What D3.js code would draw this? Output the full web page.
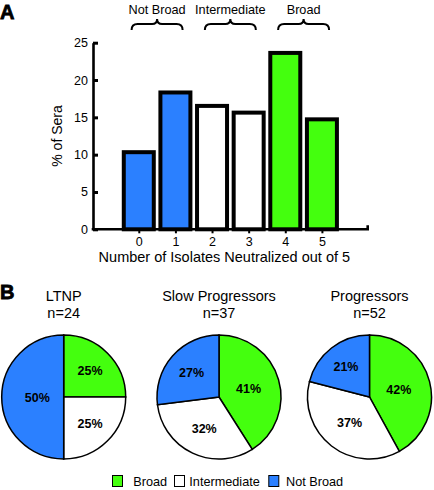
<!DOCTYPE html>
<html><head><meta charset="utf-8">
<script src="https://cdn.jsdelivr.net/npm/d3@7"></script>
<style>
html,body{margin:0;padding:0;background:#fff;}
text{font-family:"Liberation Sans",Arial,sans-serif;fill:#000;}
</style></head>
<body>
<svg id="chart" width="434" height="490"></svg>
<script>
// ---- Data ----
const isolates = [0, 1, 2, 3, 4, 5];
const percentSera = [10.6, 18.6, 16.8, 15.9, 23.9, 15.0];
const barGroup = ["Not Broad", "Not Broad", "Intermediate", "Intermediate", "Broad", "Broad"];
const yTicks = [0, 5, 10, 15, 20, 25];
const groupLabels = ["Not Broad", "Intermediate", "Broad"];
const groupRanges = [[0, 1], [2, 3], [4, 5]];
const categories = ["Broad", "Intermediate", "Not Broad"];
const pieTitles = ["LTNP", "Slow Progressors", "Progressors"];
const pieN = [24, 37, 52];
const ltnp = [25, 25, 50];
const slowProgressors = [41, 32, 27];
const progressors = [42, 37, 21];
const pieValues = [ltnp, slowProgressors, progressors];

const colors = {"Broad": "#44ff0e", "Intermediate": "#ffffff", "Not Broad": "#2b80ff"};

const svg = d3.select("#chart");

// ---- Panel A ----
svg.append("text").attr("x", 0).attr("y", 18.5).text("A")
  .style("font-size", "20px").style("font-weight", "bold")
  .attr("stroke", "#000").attr("stroke-width", 0.8);

const x = d3.scaleLinear().domain([-1.25, 6.25]).range([93, 367.7]);
const y = d3.scaleLinear().domain([0, 25]).range([229.3, 42.7]);
const barW = 34, sw = 4;

const gA = svg.append("g");
gA.selectAll("rect.bar").data(isolates).enter().append("rect")
  .attr("class", "bar")
  .attr("x", (d) => x(d) - barW / 2 + sw / 2)
  .attr("width", barW - sw)
  .attr("y", (d, i) => y(percentSera[i]) + sw / 2)
  .attr("height", (d, i) => y(0) - y(percentSera[i]) - sw / 2)
  .attr("fill", (d, i) => colors[barGroup[i]])
  .attr("stroke", "#000").attr("stroke-width", sw);

// y axis
const yAxis = d3.axisLeft(y).tickValues(yTicks).tickSizeInner(-5).tickSizeOuter(0).tickPadding(5);
const gy = gA.append("g").attr("transform", `translate(${x(-1.25)},0)`).call(yAxis);
gy.select(".domain").attr("stroke-width", 2.6);
gy.selectAll(".tick line").attr("stroke-width", 3);
gy.selectAll(".tick text").style("font-size", "12.5px").style("font-family", "Liberation Sans, Arial, sans-serif");

// x axis
const xAxis = d3.axisBottom(x).tickValues(isolates).tickSizeInner(4).tickSizeOuter(0).tickPadding(4);
const gx = gA.append("g").attr("transform", `translate(0,${y(0)})`).call(xAxis);
gx.select(".domain").remove();
gx.selectAll(".tick line").attr("stroke-width", 2);
gx.selectAll(".tick text").style("font-size", "12.5px").style("font-family", "Liberation Sans, Arial, sans-serif");
gA.append("path")
  .attr("d", `M${x(-1.25) - 1.3},${y(0)} H${x(6.25)} V${y(0) - 4}`)
  .attr("fill", "none").attr("stroke", "#000").attr("stroke-width", 2.6);

// axis titles
gA.append("text").attr("transform", `translate(62,${(y(0) + y(25)) / 2}) rotate(-90)`)
  .attr("text-anchor", "middle").style("font-size", "14px").text("% of Sera");
gA.append("text").attr("x", (x(-1.25) + x(6.25)) / 2 - 6).attr("y", 262)
  .attr("text-anchor", "middle").style("font-size", "14.5px")
  .text("Number of Isolates Neutralized out of 5");

// group braces
groupLabels.forEach((lab, i) => {
  const cx = (x(groupRanges[i][0]) + x(groupRanges[i][1])) / 2;
  const hw = 25.5;
  const x0 = cx - hw, x1 = cx + hw;
  const yb = 30, ym = 24, yt = 19;
  const p = `M${x0},${yb} Q${x0},${ym} ${x0 + 6},${ym} H${cx - 5} Q${cx},${ym} ${cx},${yt} Q${cx},${ym} ${cx + 5},${ym} H${x1 - 6} Q${x1},${ym} ${x1},${yb}`;
  gA.append("path").attr("d", p).attr("fill", "none").attr("stroke", "#000").attr("stroke-width", 2);
  gA.append("text").attr("x", cx).attr("y", 13.5).attr("text-anchor", "middle")
    .style("font-size", "12.7px").text(lab);
});

// ---- Panel B ----
svg.append("text").attr("x", 0).attr("y", 298.5).text("B")
  .style("font-size", "20px").style("font-weight", "bold")
  .attr("stroke", "#000").attr("stroke-width", 0.8);

const pieCx = [63.7, 219, 369.5];
const pieCy = 397;
const R = 62;
const pie = d3.pie().sort(null).value((d) => d);
const arc = d3.arc().innerRadius(0).outerRadius(R);

pieValues.forEach((vals, k) => {
  const g = svg.append("g").attr("transform", `translate(${pieCx[k]},${pieCy})`);
  const arcs = pie(vals);
  g.selectAll("path").data(arcs).enter().append("path")
    .attr("d", arc)
    .attr("fill", (d, i) => colors[categories[i]])
    .attr("stroke", "#000").attr("stroke-width", 1.5);
  g.selectAll("text.pct").data(arcs).enter().append("text")
    .attr("class", "pct")
    .attr("transform", (d) => {
      const a = d.endAngle - d.startAngle;
      const mid = (d.startAngle + d.endAngle) / 2;
      const dist = 4 * R * Math.sin(a / 2) / (3 * a);
      return `translate(${dist * Math.sin(mid)},${-dist * Math.cos(mid)})`;
    })
    .attr("text-anchor", "middle").attr("dy", "0.36em")
    .style("font-size", "12.5px").style("font-weight", "bold")
    .text((d) => d.data + "%");
  svg.append("text").attr("x", pieCx[k]).attr("y", 300.7).attr("text-anchor", "middle")
    .style("font-size", "14.5px").text(pieTitles[k]);
  svg.append("text").attr("x", pieCx[k]).attr("y", 318.3).attr("text-anchor", "middle")
    .style("font-size", "14.5px").text("n=" + pieN[k]);
});

// legend
const legX = [112, 174, 268.3];
const lg = svg.append("g");
categories.forEach((c, i) => {
  lg.append("rect").attr("x", legX[i] + 0.5).attr("y", 475.5).attr("width", 10).attr("height", 11)
    .attr("fill", colors[c]).attr("stroke", "#000").attr("stroke-width", 1);
});
const legTextX = [133.3, 189.3, 286];
categories.forEach((c, i) => {
  lg.append("text").attr("x", legTextX[i]).attr("y", 485.8).style("font-size", "12.7px").text(c);
});
</script>
</body></html>
